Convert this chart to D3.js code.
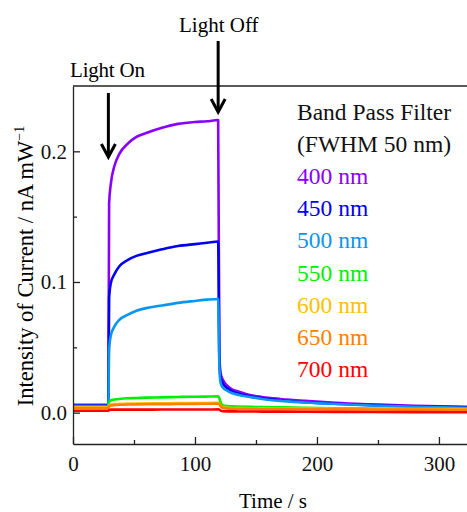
<!DOCTYPE html>
<html lang="en">
<head>
    <meta charset="UTF-8">
    <title>photocurrent</title>
    <style>
        body{margin:0; background:#fff;}
        svg{display:block; font-family:"Liberation Serif","Times New Roman",serif;}
    </style>
</head>
<body>
    <div id="chart"></div>
    <script src="https://cdn.jsdelivr.net/npm/d3@7"></script>
    <script>
        // time axis (s)
        var times = [0, 29, 29.6, 31, 34, 38, 45, 52, 60, 73, 86, 100, 110, 119, 120, 121, 123, 126, 130, 136, 145, 155, 170, 190, 215, 245, 280, 323];

        // current (nA/mW) for each filter
        var nm400 = [0.006, 0.006, 0.160, 0.175, 0.189, 0.198, 0.206, 0.211, 0.214, 0.218, 0.221, 0.2225, 0.223, 0.224, 0.045, 0.030, 0.025, 0.021, 0.018, 0.016, 0.0135, 0.012, 0.0105, 0.009, 0.0075, 0.0063, 0.0052, 0.0044];
        var nm450 = [0.0055, 0.0055, 0.088, 0.099, 0.106, 0.112, 0.117, 0.120, 0.122, 0.125, 0.1275, 0.129, 0.130, 0.131, 0.040, 0.027, 0.022, 0.019, 0.0165, 0.0145, 0.0125, 0.011, 0.0095, 0.008, 0.0068, 0.0057, 0.0047, 0.004];
        var nm500 = [0.005, 0.005, 0.048, 0.059, 0.066, 0.071, 0.075, 0.078, 0.080, 0.082, 0.084, 0.0855, 0.0865, 0.087, 0.035, 0.023, 0.019, 0.017, 0.015, 0.0135, 0.012, 0.0105, 0.009, 0.0078, 0.0066, 0.0055, 0.0045, 0.0037];
        var nm550 = [0.004, 0.004, 0.008, 0.0095, 0.010, 0.0105, 0.011, 0.0112, 0.0115, 0.0117, 0.012, 0.0122, 0.0123, 0.0125, 0.011, 0.008, 0.0055, 0.005, 0.0048, 0.0046, 0.0044, 0.0042, 0.004, 0.0037, 0.0034, 0.0032, 0.003, 0.0028];
        var nm600 = [0.004, 0.004, 0.0055, 0.0062, 0.0065, 0.0067, 0.0069, 0.007, 0.0071, 0.0072, 0.0073, 0.0074, 0.0074, 0.0075, 0.007, 0.0055, 0.0042, 0.0038, 0.0036, 0.0035, 0.0034, 0.0033, 0.0032, 0.0031, 0.003, 0.0029, 0.0028, 0.0027];
        var nm650 = [0.0035, 0.0035, 0.0048, 0.0055, 0.0058, 0.006, 0.0062, 0.0063, 0.0064, 0.0065, 0.0066, 0.0067, 0.0068, 0.0069, 0.0065, 0.005, 0.0036, 0.0033, 0.0031, 0.003, 0.0029, 0.0028, 0.0027, 0.0026, 0.0025, 0.0024, 0.0023, 0.0022];
        var nm700 = [0.0015, 0.0015, 0.002, 0.0023, 0.0023, 0.0023, 0.0023, 0.0023, 0.0023, 0.0024, 0.0024, 0.0024, 0.0024, 0.0025, 0.0023, 0.0016, 0.0011, 0.001, 0.001, 0.0009, 0.0009, 0.0008, 0.0008, 0.0007, 0.0006, 0.0005, 0.0004, 0.0003];

        var labels = ['400 nm', '450 nm', '500 nm', '550 nm', '600 nm', '650 nm', '700 nm'];
        var colors = ['#8a00ff', '#0000f0', '#0a96ee', '#00f000', '#ffc000', '#ff8000', '#ff0000'];
        var series = [nm400, nm450, nm500, nm550, nm600, nm650, nm700];

        var xTicks = [0, 100, 200, 300];
        var xMinor = [50, 150, 250];
        var yTicks = [0, 0.1, 0.2];
        var yMinor = [0.05, 0.15];

        var lightOn = 29, lightOff = 119;

        var width = 467, height = 512;
        var mLeft = 73, mTop = 86, mBottom = 444;

        var svg = d3.select('#chart').append('svg')
            .attr('width', width).attr('height', height);

        var x = d3.scaleLinear().domain([0, 323]).range([mLeft, width]);
        var y = d3.scaleLinear().domain([-0.024, 0.25]).range([mBottom, mTop]);

        svg.append('clipPath').attr('id', 'clip')
            .append('rect').attr('x', mLeft).attr('y', mTop)
            .attr('width', width - mLeft).attr('height', mBottom - mTop);

        // curves
        var line = d3.line()
            .x(function(d, i){ return x(times[i]); })
            .y(function(d){ return y(d); })
            .curve(d3.curveMonotoneX);

        svg.append('g').attr('clip-path', 'url(#clip)')
            .selectAll('path')
            .data(series)
            .enter()
            .append('path')
            .attr('d', line)
            .attr('fill', 'none')
            .attr('stroke', function(d, i){ return colors[i]; })
            .attr('stroke-width', 2.6)
            .attr('stroke-linejoin', 'round');

        // axes (ticks inward)
        svg.append('g').attr('transform', 'translate(0,' + mBottom + ')')
            .call(d3.axisBottom(x).tickValues(xTicks).tickSize(-7).tickSizeOuter(0).tickPadding(12).tickFormat(d3.format('d')));
        svg.append('g').attr('transform', 'translate(0,' + mBottom + ')')
            .call(d3.axisBottom(x).tickValues(xMinor).tickSize(-4).tickSizeOuter(0).tickFormat(''))
            .select('.domain').remove();
        svg.append('g').attr('transform', 'translate(' + mLeft + ',0)')
            .call(d3.axisLeft(y).tickValues(yTicks).tickSize(-7).tickSizeOuter(0).tickPadding(6).tickFormat(d3.format('.1f')));
        svg.append('g').attr('transform', 'translate(' + mLeft + ',0)')
            .call(d3.axisLeft(y).tickValues(yMinor).tickSize(-4).tickSizeOuter(0).tickFormat(''))
            .select('.domain').remove();

        svg.selectAll('.domain, .tick line').attr('stroke', '#222').attr('stroke-width', 1.3);
        svg.selectAll('.tick text').attr('font-family', '"Liberation Serif", serif').attr('font-size', 21).attr('fill', '#111');

        svg.append('line')
            .attr('x1', mLeft).attr('x2', width).attr('y1', mTop).attr('y2', mTop)
            .attr('stroke', '#222').attr('stroke-width', 1.3);

        // axis titles
        svg.append('text')
            .attr('x', 273).attr('y', 508)
            .attr('text-anchor', 'middle')
            .attr('font-size', 21)
            .text('Time / s');

        var yl = svg.append('text')
            .attr('transform', 'translate(33,266) rotate(-90)')
            .attr('text-anchor', 'middle')
            .attr('font-size', 22.5);
        yl.append('tspan').text('Intensity of Current / nA mW');
        yl.append('tspan').attr('font-size', 14).attr('dy', -9).text('\u22121');

        // legend
        var lg = svg.append('g').attr('font-size', 23.5);
        lg.append('text').attr('x', 297).attr('y', 120).attr('fill', '#111').text('Band Pass Filter');
        lg.append('text').attr('x', 297).attr('y', 152).attr('fill', '#111').text('(FWHM 50 nm)');
        lg.selectAll('.item')
            .data(labels)
            .enter()
            .append('text')
            .attr('class', 'item')
            .attr('x', 297)
            .attr('y', function(d, i){ return 184 + i * 32.2; })
            .attr('fill', function(d, i){ return colors[i]; })
            .text(function(d){ return d; });

        // light on / off arrows
        function arrow(t, y1, y2){
            var xx = x(t);
            svg.append('line')
                .attr('x1', xx).attr('x2', xx).attr('y1', y1).attr('y2', y2 - 1)
                .attr('stroke', '#000').attr('stroke-width', 3);
            svg.append('path')
                .attr('d', 'M' + (xx - 7) + ',' + (y2 - 13) + 'L' + xx + ',' + y2 + 'L' + (xx + 7) + ',' + (y2 - 13))
                .attr('fill', 'none').attr('stroke', '#000').attr('stroke-width', 3);
        }
        arrow(lightOn, 93, 157);
        arrow(lightOff, 41, 112);

        svg.append('text').attr('x', 70).attr('y', 77).attr('font-size', 21).attr('letter-spacing', -0.2).text('Light On');
        svg.append('text').attr('x', 179).attr('y', 32).attr('font-size', 21).text('Light Off');
    </script>
</body>
</html>
